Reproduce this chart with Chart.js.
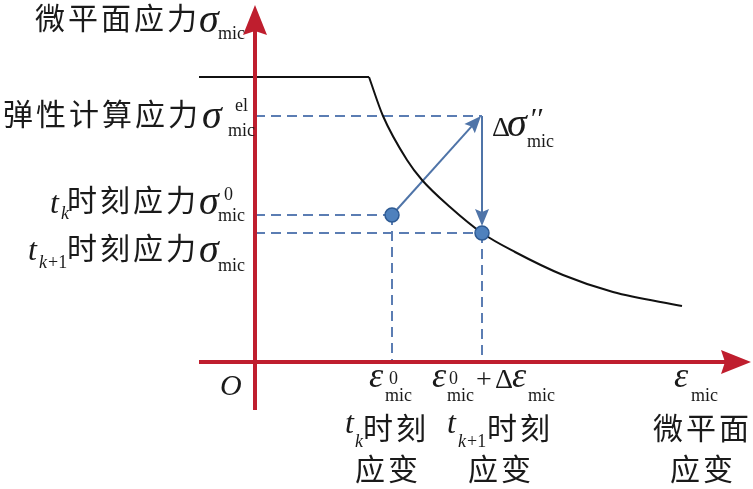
<!DOCTYPE html>
<html><head><meta charset="utf-8">
<script src="https://cdn.jsdelivr.net/npm/chart.js@4"></script>
<style>html,body{margin:0;padding:0;background:#fff}#wrap{width:753px;height:489px}</style>
</head><body><div id="wrap"><canvas id="c"></canvas></div>
<script>
// micro-plane stress vs strain, arbitrary units, origin where the axes cross
const plateauX = [-56, 114];
const plateauY = [285, 285];
const curveX = [114, 128, 152, 167, 195, 227, 260, 308, 358, 427];
const curveY = [285, 246, 202, 182, 155, 129, 110, 87, 70, 56];
const sigmaEl = 246, sigma0 = 147, sigma1 = 129;
const eps0 = 137, eps1 = 227;
const xAxisRange = [-56, 496];
const yAxisRange = [-48, 357];

const RED = '#BF1E2E', DASH = '#5B7DB3', BLUE = '#4F74A8';
const CJK = '"Noto Sans CJK SC"', SERIF = '"Liberation Serif"';
const CJK_FONT = '30px ' + CJK;

const pts = (xs, ys) => xs.map((x, i) => ({x: x, y: ys[i]}));
const seg = (a, b) => [{x: a[0], y: a[1]}, {x: b[0], y: b[1]}];

function dashed(data) {
  return {data: data, borderColor: DASH, borderWidth: 2, borderDash: [10, 6], pointRadius: 0, order: 3};
}

function arrow(ctx, x1, y1, x2, y2, color, lw, len, half, notch) {
  const a = Math.atan2(y2 - y1, x2 - x1), c = Math.cos(a), s = Math.sin(a);
  ctx.save();
  ctx.strokeStyle = color; ctx.fillStyle = color; ctx.lineWidth = lw;
  ctx.beginPath();
  ctx.moveTo(x1, y1);
  ctx.lineTo(x2 - c * (len - notch - 1), y2 - s * (len - notch - 1));
  ctx.stroke();
  ctx.beginPath();
  ctx.moveTo(x2, y2);
  ctx.lineTo(x2 - c * len - s * half, y2 - s * len + c * half);
  ctx.lineTo(x2 - c * (len - notch), y2 - s * (len - notch));
  ctx.lineTo(x2 - c * len + s * half, y2 - s * len - c * half);
  ctx.closePath();
  ctx.fill();
  ctx.restore();
}

function txt(ctx, str, x, y, font, base) {
  ctx.font = font;
  ctx.textBaseline = base || 'alphabetic';
  ctx.fillText(str, x, y);
}

const labels = {
  id: 'labels',
  beforeDatasetsDraw(chart) {
    const ctx = chart.ctx, xs = chart.scales.x, ys = chart.scales.y;
    const px = v => xs.getPixelForValue(v), py = v => ys.getPixelForValue(v);
    // blue arrows: elastic trial step and return to the curve
    arrow(ctx, px(eps0), py(sigma0), px(eps1) - 1, py(sigmaEl), BLUE, 2, 17, 7, 3);
    arrow(ctx, px(eps1), py(sigmaEl), px(eps1), py(sigma1) - 7, BLUE, 2, 17, 7, 3);
  },
  afterDatasetsDraw(chart) {
    const ctx = chart.ctx, xs = chart.scales.x, ys = chart.scales.y;
    const px = v => xs.getPixelForValue(v), py = v => ys.getPixelForValue(v);
    const ox = px(0), oy = py(0);
    // axes
    arrow(ctx, px(xAxisRange[0]), oy, px(xAxisRange[1]), oy, RED, 4, 30, 12, 4);
    arrow(ctx, ox, py(yAxisRange[0]), ox, py(yAxisRange[1]), RED, 4, 30, 12, 4);

    ctx.save();
    ctx.fillStyle = '#1a1a1a';
    const cjk = CJK_FONT, big = 'italic 40px ' + SERIF, sub = '18px ' + SERIF;
    ctx.letterSpacing = '3px';
    // y-axis labels
    txt(ctx, '微平面应力', ox - 220, 18, cjk, 'middle');
    txt(ctx, '弹性计算应力', ox - 252, py(sigmaEl) - 2, cjk, 'middle');
    txt(ctx, '时刻应力', ox - 188, py(sigma0) - 15, cjk, 'middle');
    txt(ctx, '时刻应力', ox - 188, py(sigma1) + 15, cjk, 'middle');
    // x-axis labels
    txt(ctx, '时刻', px(eps0) - 29, oy + 66, cjk, 'middle');
    txt(ctx, '应变', px(eps0) - 37, oy + 107, cjk, 'middle');
    txt(ctx, '时刻', px(eps1) + 5, oy + 66, cjk, 'middle');
    txt(ctx, '应变', px(eps1) - 14, oy + 107, cjk, 'middle');
    txt(ctx, '微平面', px(xAxisRange[1]) - 98, oy + 66, cjk, 'middle');
    txt(ctx, '应变', px(xAxisRange[1]) - 81, oy + 107, cjk, 'middle');
    ctx.letterSpacing = '0px';

    // sigma symbols
    txt(ctx, 'σ', ox - 56, 32, big);
    txt(ctx, 'mic', ox - 37, 39, sub);
    txt(ctx, 'σ', ox - 53, py(sigmaEl) + 12, big);
    txt(ctx, 'el', ox - 20, py(sigmaEl) - 5, sub);
    txt(ctx, 'mic', ox - 27, py(sigmaEl) + 20, sub);
    txt(ctx, 't', ox - 205, py(sigma0) - 2, 'italic 32px ' + SERIF);
    txt(ctx, 'k', ox - 194, py(sigma0) + 4, 'italic 18px ' + SERIF);
    txt(ctx, 'σ', ox - 56, py(sigma0) - 1, big);
    txt(ctx, '0', ox - 31, py(sigma0) - 15, sub);
    txt(ctx, 'mic', ox - 37, py(sigma0) + 6, sub);
    txt(ctx, 't', ox - 227, py(sigma1) + 27, 'italic 32px ' + SERIF);
    txt(ctx, 'k', ox - 216, py(sigma1) + 35, 'italic 18px ' + SERIF);
    txt(ctx, '+1', ox - 207, py(sigma1) + 35, sub);
    txt(ctx, 'σ', ox - 56, py(sigma1) + 29, big);
    txt(ctx, 'mic', ox - 37, py(sigma1) + 38, sub);

    // return step label
    txt(ctx, 'Δ', px(eps1) + 10, py(sigmaEl) + 20, '28px ' + SERIF);
    txt(ctx, 'σ', px(eps1) + 25, py(sigmaEl) + 20, big);
    txt(ctx, '′′', px(eps1) + 47, py(sigmaEl) + 12, 'italic 30px ' + SERIF);
    txt(ctx, 'mic', px(eps1) + 45, py(sigmaEl) + 31, sub);

    // origin and strain labels
    txt(ctx, 'O', ox - 35, oy + 33, 'italic 30px ' + SERIF);
    const eps = 'italic 36px ' + SERIF;
    txt(ctx, 'ε', px(eps0) - 23, oy + 25, eps);
    txt(ctx, '0', px(eps0) - 3, oy + 22, sub);
    txt(ctx, 'mic', px(eps0) - 7, oy + 39, sub);
    txt(ctx, 'ε', px(eps1) - 50, oy + 25, eps);
    txt(ctx, '0', px(eps1) - 33, oy + 22, sub);
    txt(ctx, 'mic', px(eps1) - 35, oy + 39, sub);
    txt(ctx, '+', px(eps1) - 6, oy + 26, '28px ' + SERIF);
    txt(ctx, 'Δ', px(eps1) + 13, oy + 26, '28px ' + SERIF);
    txt(ctx, 'ε', px(eps1) + 30, oy + 25, eps);
    txt(ctx, 'mic', px(eps1) + 46, oy + 39, sub);
    txt(ctx, 'ε', px(xAxisRange[1]) - 77, oy + 25, eps);
    txt(ctx, 'mic', px(xAxisRange[1]) - 60, oy + 39, sub);
    txt(ctx, 't', px(eps0) - 47, oy + 71, 'italic 32px ' + SERIF);
    txt(ctx, 'k', px(eps0) - 37, oy + 85, 'italic 18px ' + SERIF);
    txt(ctx, 't', px(eps1) - 35, oy + 71, 'italic 32px ' + SERIF);
    txt(ctx, 'k', px(eps1) - 24, oy + 85, 'italic 18px ' + SERIF);
    txt(ctx, '+1', px(eps1) - 15, oy + 85, sub);
    ctx.restore();
  }
};

new Chart(document.getElementById('c'), {
  type: 'line',
  data: {
    datasets: [
      {data: pts([eps0, eps1], [sigma0, sigma1]), showLine: false, pointRadius: 7,
       pointBackgroundColor: '#4F81BD', pointBorderColor: '#2E5A93', pointBorderWidth: 1.5, order: 0},
      {data: pts(plateauX, plateauY), borderColor: '#111', borderWidth: 2, pointRadius: 0, order: 2},
      {data: pts(curveX, curveY), borderColor: '#111', borderWidth: 2, pointRadius: 0,
       cubicInterpolationMode: 'monotone', order: 2},
      dashed(seg([0, sigmaEl], [eps1, sigmaEl])),
      dashed(seg([0, sigma0], [eps0, sigma0])),
      dashed(seg([0, sigma1], [eps1, sigma1])),
      dashed(seg([eps0, sigma0], [eps0, 0])),
      dashed(seg([eps1, sigma1], [eps1, 0]))
    ]
  },
  options: {
    responsive: true,
    maintainAspectRatio: false,
    animation: false,
    layout: {padding: 0, autoPadding: false},
    plugins: {legend: {display: false}, tooltip: {enabled: false}},
    scales: {
      x: {type: 'linear', min: -255, max: 498, display: false},
      y: {type: 'linear', min: -127, max: 362, display: false}
    }
  },
  plugins: [labels]
});
</script>
</body></html>
